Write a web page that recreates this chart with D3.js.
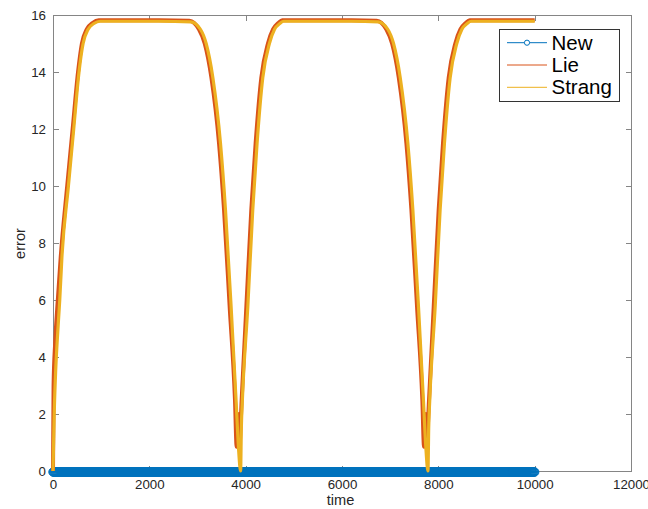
<!DOCTYPE html>
<html>
<head>
<meta charset="utf-8">
<script src="https://cdn.jsdelivr.net/npm/d3@7"></script>
<style>
  html, body { margin: 0; padding: 0; background: #fff; }
  svg { display: block; }
  text { font-family: "Liberation Sans", Arial, sans-serif; }
</style>
</head>
<body>
<svg id="chart" width="648" height="509"></svg>
<script>
// ---------- data ----------
const xTicks = [0, 2000, 4000, 6000, 8000, 10000, 12000];
const yTicks = [0, 2, 4, 6, 8, 10, 12, 14, 16];
const seriesNames = ["New", "Lie", "Strang"];
const seriesColors = ["#0072BD", "#D95319", "#EDB120"];

// "New": error stays at 0 for the whole run (dense circle markers)
const newStart = 0, newEnd = 10000, newStep = 10, newValue = 0;

const lieTime = [0, 12, 45, 100, 160, 295, 408, 520, 600, 700, 820, 950,
  1500, 2200, 2830, 3030, 3150, 3289, 3447, 3551, 3668, 3778, 3813, 3840, 3868, 3917,
  4014, 4117, 4207, 4325, 4463, 4570, 4680, 4760,
  5500, 6200, 6720, 6920, 7040, 7179, 7337, 7441, 7558, 7668, 7703, 7730, 7758, 7807,
  7904, 8007, 8097, 8215, 8353, 8460, 8570, 8650, 9300, 10000];
const lieError = [0, 3, 4.5, 6, 7.5, 10, 12, 14, 15, 15.5, 15.72, 15.82,
  15.82, 15.82, 15.8, 15.5, 15.0, 13.8, 11.5, 9.16, 5.76, 2.5, 0.85, 2.0, 0.85, 2.5,
  5.76, 9.16, 11.5, 13.8, 15.0, 15.5, 15.72, 15.82,
  15.82, 15.82, 15.8, 15.5, 15.0, 13.8, 11.5, 9.16, 5.76, 2.5, 0.85, 2.0, 1.0, 2.5,
  5.76, 9.16, 11.5, 13.8, 15.0, 15.5, 15.72, 15.82, 15.82, 15.82];

const strangTime = [0, 25, 55, 85, 140, 185, 320, 430, 540, 625, 730, 850, 980,
  1500, 2200, 2860, 3060, 3180, 3319, 3477, 3581, 3698, 3800, 3850, 3895, 3910, 3932,
  4044, 4147, 4237, 4355, 4493, 4600, 4710, 4790,
  5500, 6200, 6750, 6950, 7070, 7209, 7367, 7471, 7588, 7690, 7740, 7785, 7800, 7822,
  7934, 8037, 8127, 8245, 8383, 8490, 8600, 8680, 9300, 10000];
const strangError = [0, 2, 3.5, 4.5, 6, 7.5, 10, 12, 14, 15, 15.5, 15.7, 15.78,
  15.78, 15.78, 15.76, 15.5, 15.0, 13.8, 11.5, 9.16, 5.76, 2.5, 0.85, 0, 1.5, 2.5,
  5.76, 9.16, 11.5, 13.8, 15.0, 15.5, 15.7, 15.78,
  15.78, 15.78, 15.76, 15.5, 15.0, 13.8, 11.5, 9.16, 5.76, 2.5, 0.85, 0, 1.5, 2.5,
  5.76, 9.16, 11.5, 13.8, 15.0, 15.5, 15.7, 15.78, 15.78, 15.78];

// ---------- layout ----------
const plot = { left: 53, right: 631, top: 15, bottom: 471 };
const svg = d3.select("#chart");

const x = d3.scaleLinear().domain([0, 12000]).range([plot.left, plot.right]);
const y = d3.scaleLinear().domain([0, 16]).range([plot.bottom, plot.top]);

const axisColor = "#858585";
const textColor = "#262626";
const tickLen = 5.5;
const fmt = d3.format("d");

// box
svg.append("rect")
  .attr("x", plot.left).attr("y", plot.top)
  .attr("width", plot.right - plot.left).attr("height", plot.bottom - plot.top)
  .attr("fill", "none").attr("stroke", axisColor).attr("stroke-width", 1)
  .attr("shape-rendering", "crispEdges");

// axes via d3 (ticks inward)
const xAxisB = d3.axisBottom(x).tickValues(xTicks).tickFormat(fmt).tickSizeInner(-tickLen).tickSizeOuter(0);
const xAxisT = d3.axisTop(x).tickValues(xTicks).tickSizeInner(-tickLen).tickSizeOuter(0).tickFormat("");
const yAxisL = d3.axisLeft(y).tickValues(yTicks).tickFormat(fmt).tickSizeInner(-tickLen).tickSizeOuter(0);
const yAxisR = d3.axisRight(y).tickValues(yTicks).tickSizeInner(-tickLen).tickSizeOuter(0).tickFormat("");

function styleAxis(g) {
  g.select(".domain").remove();
  g.selectAll(".tick line").attr("stroke", axisColor).attr("stroke-width", 1).attr("shape-rendering", "crispEdges");
  g.selectAll(".tick text").attr("fill", textColor).attr("font-size", "13.3px")
    .attr("font-family", "'Liberation Sans', Arial, sans-serif");
}
svg.append("g").attr("transform", `translate(0,${plot.bottom})`).call(xAxisB).call(styleAxis)
  .selectAll(".tick text").attr("dy", "0.71em").attr("y", 9);
svg.append("g").attr("transform", `translate(0,${plot.top})`).call(xAxisT).call(styleAxis);
svg.append("g").attr("transform", `translate(${plot.left},0)`).call(yAxisL).call(styleAxis)
  .selectAll(".tick text").attr("x", -7).attr("dy", "0.36em");
svg.append("g").attr("transform", `translate(${plot.right},0)`).call(yAxisR).call(styleAxis);

// axis labels
svg.append("text").attr("x", 340.5).attr("y", 505).attr("text-anchor", "middle")
  .attr("font-size", "14.6px").attr("fill", textColor).text("time");
svg.append("text").attr("transform", "translate(25,243.5) rotate(-90)").attr("text-anchor", "middle")
  .attr("font-size", "14.6px").attr("fill", textColor).text("error");

// ---------- series ----------
const newTime = d3.range(newStart, newEnd + 1, newStep);
const newPts = newTime.map(t => [t, newValue]);
const lie = lieTime.map((t, i) => [t, lieError[i]]);
const strang = strangTime.map((t, i) => [t, strangError[i]]);

const line = d3.line().x(d => x(d[0])).y(d => y(d[1])).curve(d3.curveMonotoneX);

// New: line + dense circle markers
svg.append("path").datum(newPts).attr("d", line)
  .attr("fill", "none").attr("stroke", seriesColors[0]).attr("stroke-width", 1);
svg.append("g").selectAll("circle").data(newPts).join("circle")
  .attr("cx", d => x(d[0])).attr("cy", d => y(d[1]) + 1).attr("r", 4.2)
  .attr("fill", "none").attr("stroke", seriesColors[0]).attr("stroke-width", 1);

// Lie
svg.append("path").datum(lie).attr("d", line)
  .attr("fill", "none").attr("stroke", seriesColors[1]).attr("stroke-width", 4)
  .attr("stroke-linejoin", "round");
// Strang
svg.append("path").datum(strang).attr("d", line)
  .attr("fill", "none").attr("stroke", seriesColors[2]).attr("stroke-width", 3.2)
  .attr("stroke-linejoin", "round");

// ---------- legend ----------
const lg = svg.append("g");
lg.append("rect").attr("x", 499.5).attr("y", 29.5).attr("width", 120).attr("height", 72)
  .attr("fill", "#fff").attr("stroke", "#333").attr("stroke-width", 1);
seriesNames.forEach((name, i) => {
  const cy = 42.7 + i * 22.3;
  lg.append("line").attr("x1", 507).attr("x2", 547).attr("y1", cy).attr("y2", cy)
    .attr("stroke", seriesColors[i]).attr("stroke-width", 1);
  if (i === 0) {
    lg.append("circle").attr("cx", 527).attr("cy", cy).attr("r", 2.6)
      .attr("fill", "#fff").attr("stroke", seriesColors[i]).attr("stroke-width", 1);
  }
  lg.append("text").attr("x", 551.5).attr("y", cy + 6.8).attr("font-size", "20.5px")
    .attr("fill", "#000").text(name);
});
</script>
</body>
</html>
